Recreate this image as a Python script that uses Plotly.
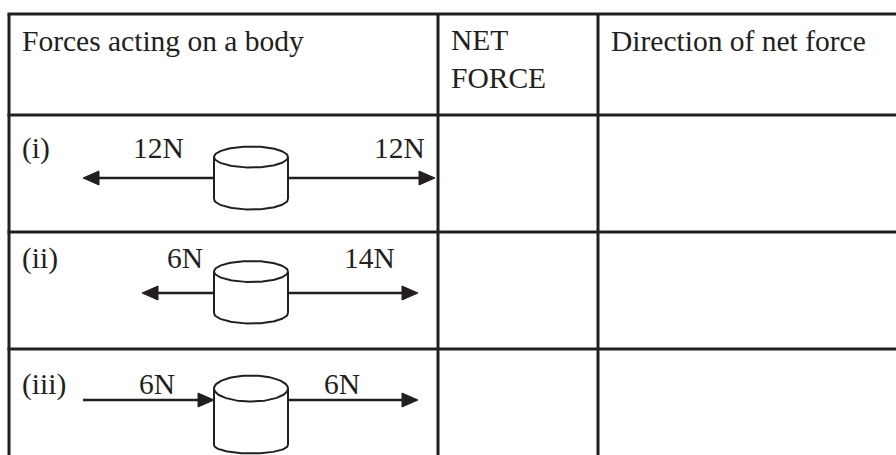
import numpy as np
import plotly.graph_objects as go

# ---- data ----
headers = ["Forces acting on a body", "NET<br>FORCE", "Direction of net force"]
row_labels = ["(i)", "(ii)", "(iii)"]
left_forces = ["12N", "6N", "6N"]
right_forces = ["12N", "14N", "6N"]
left_arrow_dir = ["left", "left", "right"]   # direction the left-hand arrow points
right_arrow_dir = ["right", "right", "right"]

# ---- layout geometry (pixels, page coordinates) ----
W, H = 896, 455
INK = "#231f20"
FONT = "Liberation Serif"
FS = 29.5
col_x = [9, 438, 598]
row_y = [14, 115, 232, 349]
header_x = [21, 450, 610]
header_base = 50
row_base = [157, 267, 393]
label_x = 21
left_label_x = [132, 166, 138]
right_label_x = [373, 343, 323]
arrow_y = [178, 293, 400]
left_end = [83, 142, 83]
right_end = [435, 418, 418]
cyl_cx, cyl_rx = 251, 37
cyl_top = [157, 271.5, 388.5]
cyl_top_ry = [10.5, 10.5, 13]
cyl_bot = [199, 313, 445]
cyl_bot_ry = [10.5, 10.5, 8.5]
HEAD_L, HEAD_W = 16, 7

fig = go.Figure()

def line(xs, ys, width):
    fig.add_trace(go.Scatter(x=xs, y=ys, mode="lines",
                             line=dict(color=INK, width=width),
                             hoverinfo="skip", showlegend=False))

# table grid
for y in row_y:
    line([col_x[0] - 1.5, W + 5], [y, y], 3)
for x in col_x:
    line([x, x], [row_y[0], H + 5], 3)

def tri(tip_x, y, direction):
    s = -1 if direction == "left" else 1
    base = tip_x - s * HEAD_L
    fig.add_trace(go.Scatter(x=[tip_x, base, base, tip_x], y=[y, y - HEAD_W, y + HEAD_W, y],
                             mode="lines", fill="toself", fillcolor=INK,
                             line=dict(color=INK, width=1),
                             hoverinfo="skip", showlegend=False))

t = np.linspace(0, 2 * np.pi, 121)
tb = np.linspace(0, np.pi, 61)
for i in range(len(row_labels)):
    y = arrow_y[i]
    left_x = cyl_cx - cyl_rx
    right_x = cyl_cx + cyl_rx
    if left_arrow_dir[i] == "left":
        line([left_x, left_end[i] + HEAD_L - 1], [y, y], 2.5)
        tri(left_end[i], y, "left")
    else:
        line([left_end[i], left_x - HEAD_L + 1], [y, y], 2.5)
        tri(left_x, y, "right")
    line([right_x, right_end[i] - HEAD_L + 1], [y, y], 2.5)
    tri(right_end[i], y, right_arrow_dir[i])
    # cylinder
    line(list(cyl_cx + cyl_rx * np.cos(t)), list(cyl_top[i] + cyl_top_ry[i] * np.sin(t)), 2)
    line([left_x, left_x], [cyl_top[i], cyl_bot[i]], 2)
    line([right_x, right_x], [cyl_top[i], cyl_bot[i]], 2)
    line(list(cyl_cx + cyl_rx * np.cos(tb)), list(cyl_bot[i] + cyl_bot_ry[i] * np.sin(tb)), 2)

def text(x, base, s):
    fig.add_annotation(x=x, y=base - 9, text=s, showarrow=False, xanchor="left",
                       yanchor="middle", xref="x", yref="y", borderpad=0,
                       font=dict(family=FONT, size=FS, color=INK), align="left")

text(header_x[0], header_base, headers[0])
fig.add_annotation(x=header_x[1], y=header_base - 27, text=headers[1], showarrow=False,
                   xanchor="left", yanchor="top", xref="x", yref="y", borderpad=0,
                   font=dict(family=FONT, size=FS, color=INK), align="left")
text(header_x[2], header_base, headers[2])

for i in range(len(row_labels)):
    text(label_x, row_base[i], row_labels[i])
    text(left_label_x[i], row_base[i], left_forces[i])
    text(right_label_x[i], row_base[i], right_forces[i])

fig.update_layout(width=W, height=H, margin=dict(l=0, r=0, t=0, b=0),
                  paper_bgcolor="white", plot_bgcolor="white",
                  xaxis=dict(range=[0, W], visible=False, fixedrange=True),
                  yaxis=dict(range=[H, 0], visible=False, fixedrange=True),
                  showlegend=False, hovermode=False)

fig.write_html("out.html", config={"displayModeBar": False, "staticPlot": True},
               post_script="document.body.style.margin='0';document.body.style.overflow='hidden';")
